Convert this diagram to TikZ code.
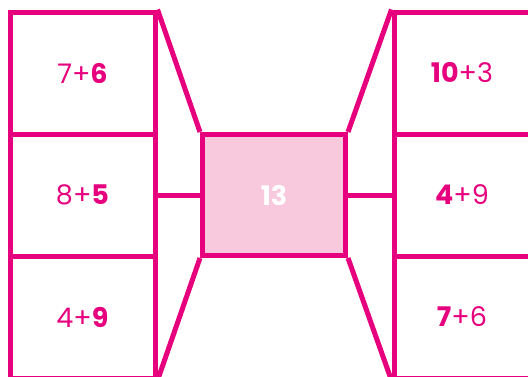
\documentclass[tikz,border=0pt]{standalone}
\usepackage{fontspec}
\setmainfont{Poppins}
\usetikzlibrary{positioning}
\definecolor{sumpink}{HTML}{E6007E}
\definecolor{sumfill}{HTML}{F8C8DC}

\begin{document}
\begin{tikzpicture}[x=1pt,y=-1pt,line width=5pt,
  sumbox/.style={draw=sumpink,minimum width=145pt,minimum height=122pt,inner sep=0pt,text=sumpink,font=\fontsize{27}{27}\selectfont},
  rbox/.style={sumbox,minimum width=136pt},
  resbox/.style={draw=sumpink,fill=sumfill,minimum width=143pt,minimum height=121pt,inner sep=0pt,text=white,font=\fontsize{27}{27}\selectfont\bfseries},
  link/.style={draw=sumpink,line join=miter}]
\useasboundingbox (0,0) rectangle (528,376);
\clip (0,0) rectangle (528,376);
% left column
\node[sumbox] (l1) at (82.5,73) {7+\textbf{6}};
\node[sumbox] (l2) at (82.5,195) {8+\textbf{5}};
\node[sumbox] (l3) at (82.5,317) {4+\textbf{9}};
% result
\node[resbox] (res) at (274,195) {13};
% right column
\node[rbox] (r1) at (462,73) {\textbf{10}+3};
\node[rbox] (r2) at (462,195) {\textbf{4}+9};
\node[rbox] (r3) at (462,317) {\textbf{7}+6};
% connectors
\draw[link] (l1.north east) -- (res.north west);
\draw[link] (l2.east) -- (res.west);
\draw[link] (l3.south east) -- (res.south west);
\draw[link] (r1.north west) -- (res.north east);
\draw[link] (r2.west) -- (res.east);
\draw[link] (r3.south west) -- (res.south east);
\end{tikzpicture}
\end{document}
